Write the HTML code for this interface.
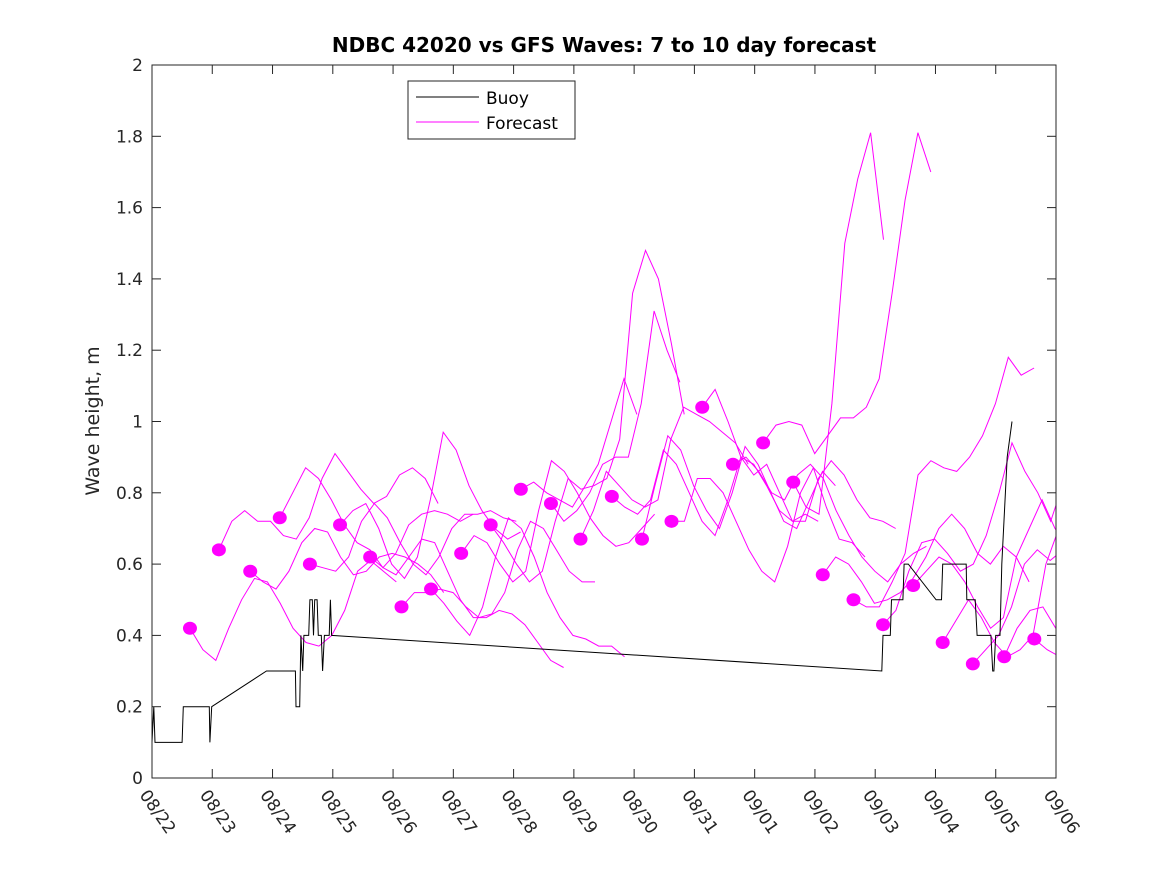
<!DOCTYPE html>
<html><head><meta charset="utf-8"><style>
body{margin:0;background:#fff;}
svg{display:block;font-family:"DejaVu Sans","Liberation Sans",sans-serif;}
</style></head><body>
<svg id="chart" width="1167" height="875" viewBox="0 0 1167 875" xmlns="http://www.w3.org/2000/svg">
<rect width="1167" height="875" fill="#fff"/>
<text x="604" y="52" text-anchor="middle" font-size="20" font-weight="bold" fill="#000">NDBC 42020 vs GFS Waves: 7 to 10 day forecast</text>
<text transform="translate(99,421) rotate(-90)" text-anchor="middle" font-size="19" fill="#262626">Wave height, m</text>
<defs><clipPath id="pc"><rect x="152" y="65" width="904" height="713"/></clipPath></defs>
<g id="series" clip-path="url(#pc)"></g>
<rect x="152" y="65" width="904" height="713" fill="none" stroke="#262626" stroke-width="1"/>
<g id="axes"></g>
<g>
<rect x="408" y="81" width="167" height="58" fill="#fff" stroke="#262626" stroke-width="1"/>
<line x1="416" y1="97" x2="479" y2="97" stroke="#000" stroke-width="1"/>
<text x="486" y="104" font-size="17" fill="#000">Buoy</text>
<line x1="416" y1="122" x2="479" y2="122" stroke="#f0f" stroke-width="1"/>
<text x="486" y="129" font-size="17" fill="#000">Forecast</text>
</g>
</svg>
<script>
const xTickLabels=["08/22","08/23","08/24","08/25","08/26","08/27","08/28","08/29","08/30","08/31","09/01","09/02","09/03","09/04","09/05","09/06"];
const yTickValues=[0,0.2,0.4,0.6,0.8,1,1.2,1.4,1.6,1.8,2];
const buoyDays=[0,0.03,0.05,0.50,0.52,0.95,0.96,0.99,1.90,2.38,2.39,2.45,2.47,2.50,2.52,2.60,2.62,2.66,2.68,2.70,2.74,2.76,2.81,2.83,2.86,2.94,2.96,2.98,12.11,12.13,12.25,12.27,12.46,12.48,12.55,13.01,13.10,13.12,13.51,13.52,13.66,13.69,13.92,13.95,13.97,14.00,14.07,14.10,14.13,14.16,14.19,14.27];
const buoyValues=[0.10,0.20,0.10,0.10,0.20,0.20,0.10,0.20,0.30,0.30,0.20,0.20,0.40,0.30,0.40,0.40,0.50,0.50,0.40,0.50,0.50,0.40,0.40,0.30,0.40,0.40,0.50,0.40,0.30,0.40,0.40,0.50,0.50,0.60,0.60,0.50,0.50,0.60,0.60,0.50,0.50,0.40,0.40,0.30,0.30,0.40,0.40,0.60,0.70,0.80,0.90,1.00];
const forecastStartDays=[0.63,1.11,1.63,2.12,2.62,3.12,3.62,4.14,4.63,5.13,5.62,6.12,6.62,7.11,7.63,8.13,8.62,9.13,9.64,10.14,10.64,11.13,11.64,12.13,12.63,13.12,13.62,14.14,14.64];
const forecastStepDays=0.214;
const forecastValues=[
[0.42,0.36,0.33,0.42,0.50,0.56,0.55,0.49,0.42,0.38,0.37,0.40,0.47,0.58,0.61,0.58,0.55],
[0.64,0.72,0.75,0.72,0.72,0.68,0.67,0.73,0.84,0.91,0.86,0.81,0.77,0.79,0.85,0.87,0.84,0.77],
[0.58,0.55,0.53,0.58,0.66,0.70,0.69,0.62,0.57,0.58,0.62,0.63,0.62,0.60,0.57,0.52],
[0.73,0.80,0.87,0.84,0.78,0.71,0.66,0.64,0.59,0.63,0.71,0.74,0.75,0.74,0.72,0.74],
[0.60,0.59,0.58,0.62,0.72,0.77,0.73,0.66,0.60,0.57,0.62,0.70,0.74,0.74,0.75,0.73,0.72],
[0.71,0.75,0.77,0.70,0.60,0.56,0.62,0.78,0.97,0.92,0.82,0.75,0.70,0.67,0.69],
[0.62,0.59,0.57,0.62,0.67,0.66,0.58,0.50,0.45,0.45,0.47,0.46,0.43,0.38,0.33,0.31],
[0.48,0.52,0.52,0.53,0.52,0.48,0.45,0.46,0.52,0.64,0.72,0.70,0.64,0.58,0.55,0.55],
[0.53,0.49,0.44,0.40,0.48,0.62,0.73,0.70,0.62,0.52,0.45,0.40,0.39,0.37,0.37,0.34],
[0.63,0.68,0.66,0.60,0.55,0.58,0.75,0.89,0.86,0.80,0.73,0.68,0.65,0.66,0.70,0.74],
[0.71,0.66,0.60,0.55,0.58,0.72,0.84,0.81,0.82,0.84,0.95,1.36,1.48,1.40,1.22,1.02],
[0.81,0.83,0.80,0.78,0.76,0.82,0.88,1.00,1.12,1.02],
[0.77,0.72,0.75,0.80,0.88,0.90,0.90,1.05,1.31,1.20,1.11],
[0.67,0.75,0.86,0.82,0.78,0.76,0.78,0.95,1.04,1.02,1.00,0.97,0.94,0.88],
[0.79,0.76,0.74,0.78,0.92,0.88,0.80,0.72,0.68,0.78,0.90,0.88,0.82,0.75,0.72,0.74,0.72],
[0.67,0.82,0.96,0.92,0.82,0.75,0.70,0.80,0.93,0.88,0.80,0.72,0.70,0.78,0.86,0.82],
[0.72,0.72,0.84,0.84,0.80,0.72,0.64,0.58,0.55,0.65,0.80,0.87,0.76,0.67,0.66,0.62],
[1.04,1.09,1.00,0.90,0.85,0.88,0.80,0.72,0.72,0.84,0.89,0.85,0.78,0.73,0.72,0.70],
[0.88,0.90,0.86,0.80,0.78,0.85,0.88,0.84,0.75,0.68,0.62,0.58,0.55,0.60,0.63,0.65],
[0.94,0.99,1.00,0.99,0.91,0.96,1.01,1.01,1.04,1.12,1.36,1.62,1.81,1.70],
[0.83,0.76,0.74,1.05,1.50,1.68,1.81,1.51],
[0.57,0.62,0.60,0.55,0.49,0.50,0.52,0.56,0.62,0.70,0.74,0.70,0.63,0.60,0.65,0.62,0.55],
[0.50,0.48,0.48,0.55,0.63,0.85,0.89,0.87,0.86,0.90,0.96,1.05,1.18,1.13,1.15],
[0.43,0.47,0.58,0.66,0.67,0.63,0.58,0.60,0.68,0.80,0.94,0.86,0.80,0.72,0.83],
[0.54,0.58,0.62,0.60,0.55,0.48,0.42,0.45,0.62,0.70,0.78,0.70,0.65,0.88,0.85],
[0.38,0.44,0.50,0.45,0.38,0.34,0.36,0.40,0.60,0.70,0.85,0.95,0.93,0.90,0.88],
[0.32,0.36,0.40,0.48,0.60,0.64,0.61,0.64,0.70,0.80,0.98],
[0.34,0.42,0.47,0.48,0.42,0.38,0.35,0.33],
[0.39,0.36,0.34,0.32]
];
const NS="http://www.w3.org/2000/svg";
const X0=152,X1=1056,Y0=778,Y1=65,DAYS=15,YMAX=2;
function xs(d){return X0+(X1-X0)*d/DAYS;}
function ys(v){return Y0-(Y0-Y1)*v/YMAX;}
const axes=document.getElementById('axes');
const series=document.getElementById('series');
function mk(tag,attrs,parent){const e=document.createElementNS(NS,tag);for(const k in attrs)e.setAttribute(k,attrs[k]);parent.appendChild(e);return e;}
xTickLabels.forEach((lab,i)=>{
  const x=xs(i);
  const t1=mk('line',{x1:x,y1:Y0,x2:x,y2:Y0-9,stroke:'#262626'},axes);
  
  
  const t2=mk('line',{x1:x,y1:Y1,x2:x,y2:Y1+9,stroke:'#262626'},axes);
  
  
  const tx=mk('text',{transform:`translate(${x-13},${795}) rotate(55)`,'font-size':'17',fill:'#262626'},axes);
  tx.textContent=lab;
  
  
});
yTickValues.forEach(v=>{
  const y=ys(v);
  const a=mk('line',{x1:X0,y1:y,x2:X0+9,y2:y,stroke:'#262626'},axes);
  
  
  const b=mk('line',{x1:X1,y1:y,x2:X1-9,y2:y,stroke:'#262626'},axes);
  
  
  const t=mk('text',{x:X0-9,y:y+6,'text-anchor':'end','font-size':'17',fill:'#262626'},axes);
  t.textContent=String(v);
  
  
});
forecastValues.forEach((vals,i)=>{
  const d0=forecastStartDays[i];
  const pts=vals.map((v,j)=>xs(d0+j*forecastStepDays).toFixed(1)+','+ys(v).toFixed(1)).join(' ');
  const pl=mk('polyline',{points:pts,fill:'none',stroke:'#f0f','stroke-width':'1'},series);
  
  
});
forecastValues.forEach((vals,i)=>{
  const c=mk('ellipse',{cx:xs(forecastStartDays[i]),cy:ys(vals[0]),rx:7,ry:6.5,fill:'#f0f'},series);
  
  
});
const bp=buoyDays.map((d,i)=>xs(d).toFixed(1)+','+ys(buoyValues[i]).toFixed(1)).join(' ');
const bl=mk('polyline',{points:bp,fill:'none',stroke:'#000','stroke-width':'1'},series);


</script>
</body></html>
